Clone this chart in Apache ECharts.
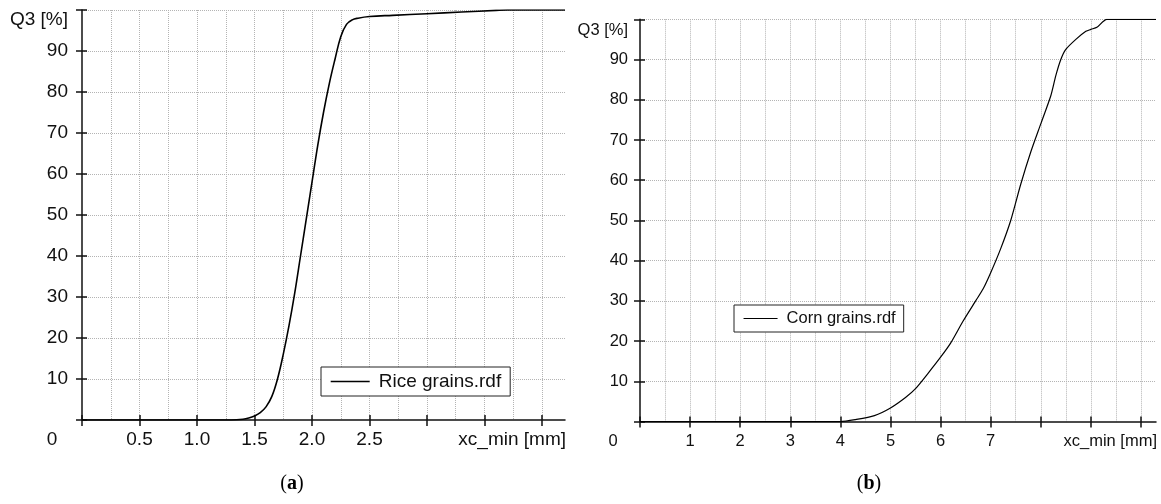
<!DOCTYPE html>
<html>
<head>
<meta charset="utf-8">
<script src="https://cdn.jsdelivr.net/npm/echarts@6/dist/echarts.min.js"></script>
<style>
html,body{margin:0;padding:0;background:#fff;}
#c{width:1161px;height:504px;}
</style>
</head>
<body>
<div id="c"></div>
<script>
// ---- data ----
const riceName = 'Rice grains.rdf';
const riceX  = [0, 1.3, 1.4, 1.45, 1.5, 1.55, 1.6, 1.65, 1.7, 1.75, 1.8, 1.85, 1.9, 1.95, 2.0, 2.05, 2.1, 2.15, 2.2, 2.25, 2.3, 2.35, 2.4, 2.5, 2.7, 3.0, 3.3, 3.6, 3.7, 4.2];
const riceQ3 = [0, 0, 0.2, 0.5, 1.0, 1.8, 3.2, 5.7, 10, 16, 23, 31, 40, 49, 58, 67, 75, 82, 88, 93.5, 96.5, 97.6, 98, 98.4, 98.7, 99.1, 99.5, 99.9, 100, 100];

const cornName = 'Corn grains.rdf';
const cornX  = [0, 4.0, 4.3, 4.68, 5.0, 5.3, 5.5, 5.75, 6.0, 6.2, 6.45, 6.7, 6.85, 7.0, 7.2, 7.4, 7.6, 7.8, 8.0, 8.2, 8.3, 8.4, 8.5, 8.7, 8.9, 9.0, 9.12, 9.32, 10.3];
const cornQ3 = [0, 0, 0.5, 1.5, 3.4, 6, 8.2, 12, 16, 19.5, 25, 30, 33, 37, 43, 50, 59, 67, 74, 81, 86, 90, 92.5, 95, 97, 97.5, 98, 100, 100];

const riceXLabelValues = [0, 0.5, 1.0, 1.5, 2.0, 2.5];
const riceXLabels      = ['0', '0.5', '1.0', '1.5', '2.0', '2.5'];
const riceXTickValues  = [0, 0.5, 1, 1.5, 2, 2.5, 3, 3.5, 4];

const cornXLabelValues = [0, 1, 2, 3, 4, 5, 6, 7];
const cornXLabels      = ['0', '1', '2', '3', '4', '5', '6', '7'];
const cornXTickValues  = [0, 1, 2, 3, 4, 5, 6, 7, 8, 9, 10];

const yLabelValues = [10, 20, 30, 40, 50, 60, 70, 80, 90];
const yLabels      = ['10', '20', '30', '40', '50', '60', '70', '80', '90'];

const xName = 'xc_min [mm]';
const yName = 'Q3 [%]';

// ---- chart ----
const FF = '"Liberation Sans", Arial, sans-serif';
const AX = '#111';
const GRIDC = '#b4b4b4';

function pairs(xs, ys){ return xs.map((x,i)=>[x, ys[i]]); }
function lookup(vals, labels){
  return function(v){
    for (let i=0;i<vals.length;i++){ if (Math.abs(vals[i]-v)<1e-9) return labels[i]; }
    return '';
  };
}

function xAxes(g, max, interval, minorInterval, tickVals, labVals, labs, fs, margin, zeroPad){
  const lk = lookup(labVals, labs);
  return [
    { gridIndex:g, type:'value', position:'bottom', min:0, max:max, interval:interval,
      axisLine:{show:true,onZero:false,lineStyle:{color:AX,width:1.5}},
      axisTick:{show:true,length:6,customValues:tickVals,lineStyle:{color:AX,width:1.5}},
      axisLabel:{show:true,customValues:labVals,margin:margin,fontSize:fs,fontFamily:FF,color:'#111',
        formatter:function(v){ const t = lk(v); if (Math.abs(v)<1e-9) return '{z|'+t+'}'; return t; },
        rich:{z:{fontSize:fs,fontFamily:FF,color:'#111',padding:[0,zeroPad,0,0]}}},
      splitLine:{show:false},
      name:xName, nameLocation:'end', nameGap:1,
      nameTextStyle:{fontSize:fs,fontFamily:FF,color:'#111',align:'right',verticalAlign:'top',padding:[margin,0,0,0]}
    },
    { gridIndex:g, type:'value', position:'bottom', offset:0, min:0, max:max, interval:interval,
      axisLine:{show:false,onZero:false},
      axisTick:{show:true,inside:true,length:5,customValues:tickVals,lineStyle:{color:AX,width:1.5}},
      axisLabel:{show:false}, splitLine:{show:false}
    },
    { gridIndex:g, type:'value', position:'bottom', offset:0, min:0, max:max, interval:minorInterval,
      axisLine:{show:false,onZero:false}, axisTick:{show:false}, axisLabel:{show:false},
      splitLine:{show:true,showMinLine:false,showMaxLine:false,lineStyle:{color:GRIDC,type:'dotted',width:1}}
    }
  ];
}

function yAxes(g, fs, margin, nameGap, namePad){
  const lk = lookup(yLabelValues, yLabels);
  return [
    { gridIndex:g, type:'value', position:'left', min:0, max:100, interval:10,
      axisLine:{show:true,onZero:false,lineStyle:{color:AX,width:1.5}},
      axisTick:{show:true,length:6,lineStyle:{color:AX,width:1.5}},
      axisLabel:{show:true,customValues:yLabelValues,margin:margin,fontSize:fs,fontFamily:FF,color:'#111',formatter:lk},
      splitLine:{show:true,showMinLine:false,showMaxLine:true,lineStyle:{color:GRIDC,type:'dotted',width:1}},
      name:yName, nameLocation:'end', nameGap:nameGap,
      nameTextStyle:{fontSize:fs,fontFamily:FF,color:'#111',align:'right',verticalAlign:'middle',padding:[0,namePad,0,0]}
    },
    { gridIndex:g, type:'value', position:'left', offset:0, min:0, max:100, interval:10,
      axisLine:{show:false,onZero:false},
      axisTick:{show:true,inside:true,length:5,lineStyle:{color:AX,width:1.5}},
      axisLabel:{show:false}, splitLine:{show:false}
    }
  ];
}

const chart = echarts.init(document.getElementById('c'), null, {renderer:'canvas'});
const option = {
  animation:false,
  backgroundColor:'#fff',
  grid:[
    {left:82, top:10, width:483, height:410, containLabel:false},
    {left:640, top:19.3, width:516, height:402.3, containLabel:false}
  ],
  xAxis: [].concat(
    xAxes(0, 4.2, 0.5, 0.25, riceXTickValues, riceXLabelValues, riceXLabels, 19, 10.5, 60),
    xAxes(1, 10.3, 1, 0.5, cornXTickValues, cornXLabelValues, cornXLabels, 16.5, 11, 54)
  ),
  yAxis: [].concat(
    yAxes(0, 19, 14, -10, 14),
    yAxes(1, 16.5, 12, -11.5, 12)
  ),
  legend:[
    { data:[riceName], left:321, top:367, orient:'horizontal',
      backgroundColor:'#fff', borderColor:'#222', borderWidth:1, borderRadius:0,
      padding:[5,9,5,9], itemWidth:39, itemHeight:14,
      itemStyle:{opacity:0}, lineStyle:{color:'#000',width:1.4},
      textStyle:{fontSize:19,fontFamily:FF,color:'#111',padding:[0,0,0,4]} },
    { data:[cornName], left:734, top:305, orient:'horizontal',
      backgroundColor:'#fff', borderColor:'#222', borderWidth:1, borderRadius:0,
      padding:[5,8,5,9], itemWidth:34, itemHeight:14,
      itemStyle:{opacity:0}, lineStyle:{color:'#000',width:1.1},
      textStyle:{fontSize:16.5,fontFamily:FF,color:'#111',padding:[0,0,0,4]} }
  ],
  series:[
    { name:riceName, type:'line', xAxisIndex:0, yAxisIndex:0, data:pairs(riceX, riceQ3),
      symbol:'none', showSymbol:false, smooth:0.4,
      lineStyle:{color:'#000',width:1.6}, itemStyle:{color:'#000'} },
    { name:cornName, type:'line', xAxisIndex:3, yAxisIndex:2, data:pairs(cornX, cornQ3),
      symbol:'none', showSymbol:false, smooth:0.25,
      lineStyle:{color:'#000',width:1.2}, itemStyle:{color:'#000'} }
  ],
  graphic:[
    { type:'text', x:292, y:484, style:{ text:'({b|a})', align:'center', verticalAlign:'middle',
        fontSize:20, fontFamily:'"Liberation Serif", "DejaVu Serif", serif', fill:'#000',
        rich:{b:{fontSize:20, fontWeight:'bold', fontFamily:'"Liberation Serif", "DejaVu Serif", serif', fill:'#000'}} } },
    { type:'text', x:869, y:484, style:{ text:'({b|b})', align:'center', verticalAlign:'middle',
        fontSize:20, fontFamily:'"Liberation Serif", "DejaVu Serif", serif', fill:'#000',
        rich:{b:{fontSize:20, fontWeight:'bold', fontFamily:'"Liberation Serif", "DejaVu Serif", serif', fill:'#000'}} } }
  ]
};
chart.setOption(option);
</script>
</body>
</html>
